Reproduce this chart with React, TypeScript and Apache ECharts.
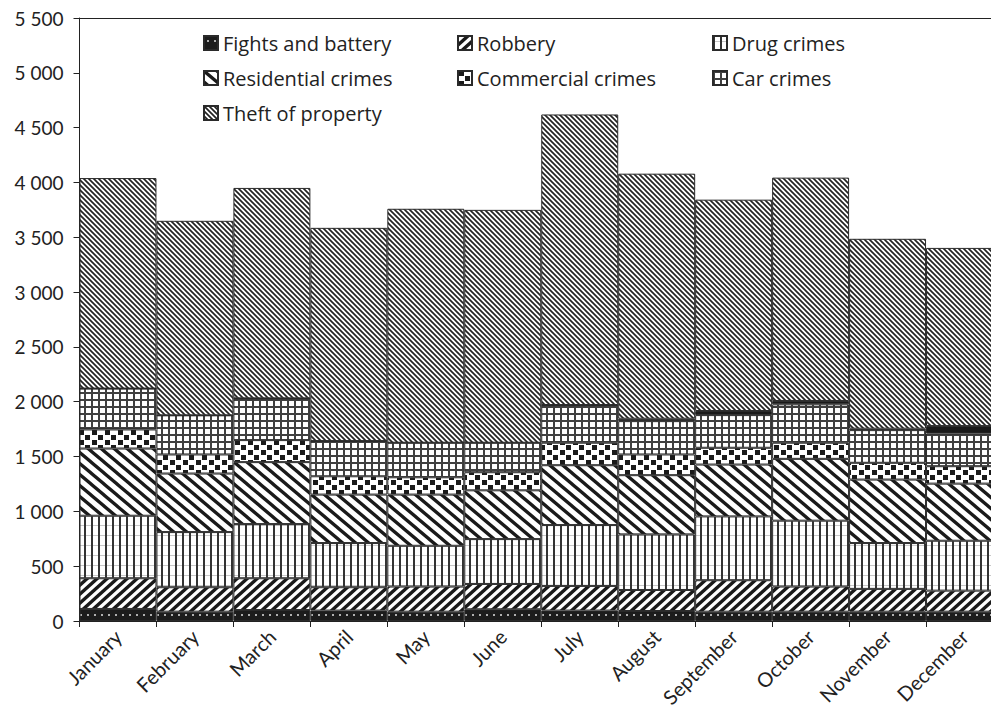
import React, { useEffect, useRef } from "react";
import * as echarts from "echarts";

const months = ["January", "February", "March", "April", "May", "June", "July", "August", "September", "October", "November", "December"];
const fights = [110, 85, 100, 95, 85, 107, 95, 91, 85, 85, 85, 85];
const robbery = [280, 223, 290, 213, 229, 231, 225, 192, 287, 229, 208, 192];
const drugs = [570, 503, 494, 403, 372, 409, 555, 507, 582, 601, 418, 455];
const residential = [613, 534, 565, 442, 467, 445, 546, 540, 473, 564, 579, 521];
const commercial = [174, 174, 201, 167, 158, 165, 205, 189, 153, 147, 153, 159];
const car = [373, 357, 381, 321, 315, 269, 344, 304, 298, 350, 298, 299];
const otherBand = [0, 0, 0, 0, 0, 0, 0, 22, 37, 31, 13, 67];
const theft = [1920, 1774, 1919, 1945, 2134, 2124, 2650, 2235, 1928, 2037, 1732, 1625];

const FONT = "Lato";
const LEGEND_FONT = "Open Sans";

type Draw = (ctx: CanvasRenderingContext2D, w: number, h: number) => void;

function tile(w: number, h: number, bg: string, draw: Draw) {
  const c = document.createElement("canvas");
  c.width = w;
  c.height = h;
  const ctx = c.getContext("2d") as CanvasRenderingContext2D;
  ctx.fillStyle = bg;
  ctx.fillRect(0, 0, w, h);
  draw(ctx, w, h);
  return { image: c.toDataURL(), repeat: "repeat", imageWidth: w, imageHeight: h } as any;
}

function diag(ctx: CanvasRenderingContext2D, w: number, h: number, dir: "down" | "up", lw: number, color: string) {
  ctx.strokeStyle = color;
  ctx.lineWidth = lw;
  ctx.beginPath();
  for (const o of [-w, 0, w]) {
    if (dir === "down") {
      ctx.moveTo(o - w * 0.5, -h * 0.5);
      ctx.lineTo(o + w * 1.5, h * 1.5);
    } else {
      ctx.moveTo(o - w * 0.5, h * 1.5);
      ctx.lineTo(o + w * 1.5, -h * 0.5);
    }
  }
  ctx.stroke();
}

function fmt(v: number) {
  if (v >= 1000) {
    const t = Math.floor(v / 1000);
    const r = v % 1000;
    return `${t} ${String(r).padStart(3, "0")}`;
  }
  return String(v);
}

export default function App() {
  const ref = useRef<HTMLDivElement>(null);
  useEffect(() => {
    if (!ref.current) return;
    const pFights = tile(7, 10, "#1c1c1c", (ctx) => {
      ctx.fillStyle = "#b0b0b0";
      ctx.fillRect(3, 4, 2, 2);
    });
    const pRobbery = tile(10, 9, "#ffffff", (ctx, w, h) => diag(ctx, w, h, "up", 3.4, "#1a1a1a"));
    const pDrugs = tile(7, 10, "#ffffff", (ctx) => {
      ctx.fillStyle = "#c8c8c8";
      ctx.fillRect(2, 5, 5, 1);
      ctx.fillStyle = "#333333";
      ctx.fillRect(0, 0, 2, 10);
    });
    const pResidential = tile(13, 11, "#ffffff", (ctx, w, h) => diag(ctx, w, h, "down", 3.3, "#1a1a1a"));
    const pCommercial = tile(13, 10, "#ffffff", (ctx) => {
      ctx.fillStyle = "#1a1a1a";
      ctx.fillRect(1, 0, 5, 5);
      ctx.fillRect(7, 5, 5, 5);
    });
    const pCar = tile(7, 7, "#ffffff", (ctx) => {
      ctx.fillStyle = "#404040";
      ctx.fillRect(0, 0, 7, 2);
      ctx.fillRect(0, 0, 2, 7);
    });
    const pTheft = tile(5, 5, "#ffffff", (ctx, w, h) => diag(ctx, w, h, "down", 1.7, "#222222"));

    const chart = echarts.init(ref.current, undefined, { renderer: "svg" });
    const border = { borderColor: "#2a2a2a", borderWidth: 1 };
    const mk = (name: string, data: number[], color: any) => ({
      name,
      type: "bar",
      stack: "total",
      data,
      barCategoryGap: 0,
      itemStyle: { color, ...border },
      emphasis: { disabled: true },
    });
    const legendBase = {
      orient: "vertical",
      top: 33,
      padding: 0,
      itemWidth: 14,
      itemHeight: 14,
      itemGap: 15,
      icon: "rect",
      selectedMode: false,
      textStyle: { fontFamily: LEGEND_FONT, fontSize: 20, color: "#222", lineHeight: 20 },
    };
    chart.setOption({
      animation: false,
      backgroundColor: "#ffffff",
      textStyle: { fontFamily: FONT },
      grid: { left: 79.5, right: 0, top: 18, bottom: 92, containLabel: false },
      legend: [
        { ...legendBase, left: 203, data: ["Fights and battery", "Residential crimes", "Theft of property"] },
        { ...legendBase, left: 457, data: ["Robbery", "Commercial crimes"] },
        { ...legendBase, left: 712, data: ["Drug crimes", "Car crimes"] },
      ],
      xAxis: [
        {
          type: "category",
          data: months,
          position: "bottom",
          axisLine: { show: true, lineStyle: { color: "#222", width: 1 } },
          axisTick: { show: true, length: 6, lineStyle: { color: "#222" } },
          axisLabel: { rotate: 45, fontSize: 20, color: "#222", fontFamily: FONT, margin: 12, interval: 0 },
        },
        {
          type: "category",
          data: months,
          position: "top",
          axisLine: { show: true, lineStyle: { color: "#222", width: 1 } },
          axisTick: { show: false },
          axisLabel: { show: false },
        },
      ],
      yAxis: {
        type: "value",
        min: 0,
        max: 5500,
        interval: 500,
        axisLine: { show: true, lineStyle: { color: "#222", width: 1 } },
        axisTick: { show: true, length: 6, lineStyle: { color: "#222" } },
        splitLine: { show: false },
        axisLabel: { fontSize: 19, color: "#222", fontFamily: FONT, margin: 16, formatter: fmt },
      },
      series: [
        mk("Fights and battery", fights, pFights),
        mk("Robbery", robbery, pRobbery),
        mk("Drug crimes", drugs, pDrugs),
        mk("Residential crimes", residential, pResidential),
        mk("Commercial crimes", commercial, pCommercial),
        mk("Car crimes", car, pCar),
        mk("Other", otherBand, "#1a1a1a"),
        mk("Theft of property", theft, pTheft),
      ],
    });
    return () => chart.dispose();
  }, []);
  return (
    <div style={{ position: "fixed", left: 0, top: 0, width: 991, height: 713, overflow: "hidden", background: "#fff" }}>
      <div ref={ref} style={{ width: 1003, height: 713 }} />
    </div>
  );
}
